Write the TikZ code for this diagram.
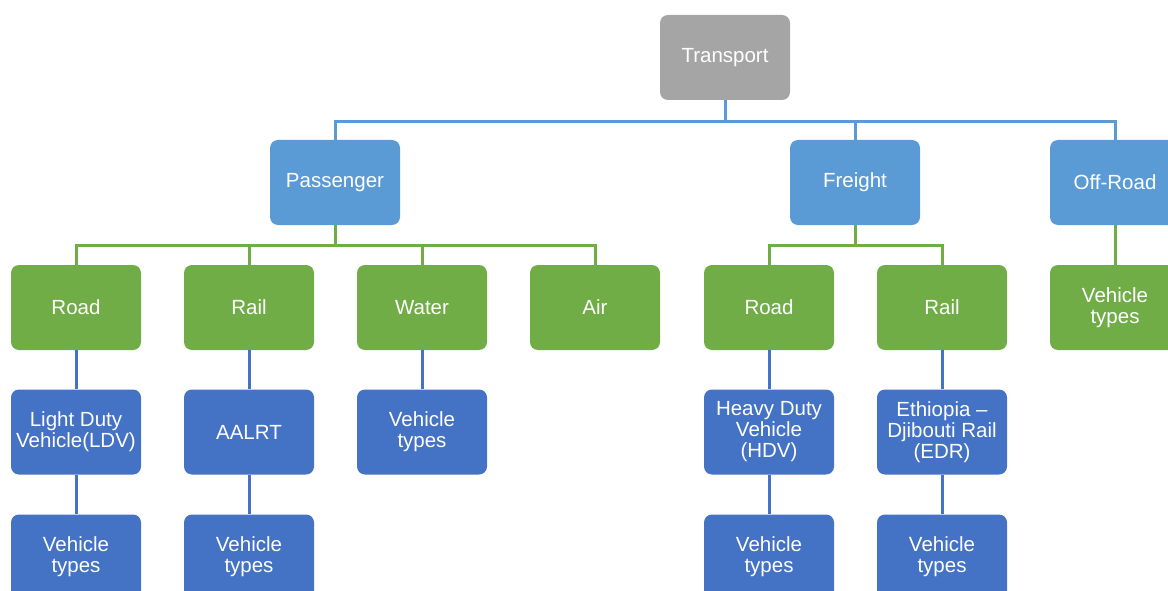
\documentclass[tikz,border=0pt]{standalone}
\usepackage{fontspec}
\setmainfont{Liberation Sans}
\definecolor{topgray}{HTML}{A5A5A5}
\definecolor{midblue}{HTML}{5B9BD5}
\definecolor{leafgreen}{HTML}{70AD47}
\definecolor{darkblue}{HTML}{4472C4}
\tikzset{
  box/.style={rectangle, rounded corners=8pt, minimum width=130pt, minimum height=85pt,
    align=center, text=white, inner sep=2pt,
    font=\fontsize{20.5}{21}\selectfont},
  rootbox/.style={box, fill=topgray},
  catbox/.style={box, fill=midblue},
  modebox/.style={box, fill=leafgreen},
  vehbox/.style={box, fill=darkblue},
  blueline/.style={draw=midblue, line width=3pt},
  greenline/.style={draw=leafgreen, line width=3pt},
  darkline/.style={draw=darkblue, line width=3pt}
}
\begin{document}
\begin{tikzpicture}[x=1pt, y=-1pt]
\useasboundingbox (0,0) rectangle (1168,591);
\clip (0,0) rectangle (1168,591);
% top level
\node[rootbox] (transport) at (725,57.5) {Transport};
% categories
\node[catbox] (passenger) at (335,182.5) {Passenger};
\node[catbox] (freight) at (855,182.5) {Freight};
\node[catbox] (offroad) at (1115,182.5) {Off-Road};
% modes
\node[modebox] (proad) at (76,307.5) {Road};
\node[modebox] (prail) at (249,307.5) {Rail};
\node[modebox] (pwater) at (422,307.5) {Water};
\node[modebox] (pair) at (595,307.5) {Air};
\node[modebox] (froad) at (769,307.5) {Road};
\node[modebox] (frail) at (942,307.5) {Rail};
\node[modebox] (otypes) at (1115,307.5) {Vehicle\\types};
% vehicles
\node[vehbox] (ldv) at (76,432) {Light Duty\\Vehicle(LDV)};
\node[vehbox] (aalrt) at (249,432) {AALRT};
\node[vehbox] (wtypes) at (422,432) {Vehicle\\types};
\node[vehbox] (hdv) at (769,432) {Heavy Duty\\Vehicle\\(HDV)};
\node[vehbox] (edr) at (942,432) {Ethiopia --\\Djibouti Rail\\(EDR)};
\node[vehbox] (ldvtypes) at (76,557) {Vehicle\\types};
\node[vehbox] (aalrttypes) at (249,557) {Vehicle\\types};
\node[vehbox] (hdvtypes) at (769,557) {Vehicle\\types};
\node[vehbox] (edrtypes) at (942,557) {Vehicle\\types};
% connectors
\coordinate (tjoin) at ([yshift=-21pt]transport.south);
\draw[blueline] (transport.south) -- (tjoin);
\draw[blueline] (tjoin) -| (passenger.north);
\draw[blueline] (tjoin) -| (freight.north);
\draw[blueline] (tjoin) -| (offroad.north);
\coordinate (pjoin) at ([yshift=-20pt]passenger.south);
\draw[greenline] (passenger.south) -- (pjoin);
\foreach \m in {proad,prail,pwater,pair}
  \draw[greenline] (pjoin) -| (\m.north);
\coordinate (fjoin) at ([yshift=-20pt]freight.south);
\draw[greenline] (freight.south) -- (fjoin);
\foreach \m in {froad,frail}
  \draw[greenline] (fjoin) -| (\m.north);
\draw[greenline] (offroad) -- (otypes);
\draw[darkline] (proad) -- (ldv);
\draw[darkline] (prail) -- (aalrt);
\draw[darkline] (pwater) -- (wtypes);
\draw[darkline] (froad) -- (hdv);
\draw[darkline] (frail) -- (edr);
\draw[darkline] (ldv) -- (ldvtypes);
\draw[darkline] (aalrt) -- (aalrttypes);
\draw[darkline] (hdv) -- (hdvtypes);
\draw[darkline] (edr) -- (edrtypes);
\end{tikzpicture}
\end{document}
